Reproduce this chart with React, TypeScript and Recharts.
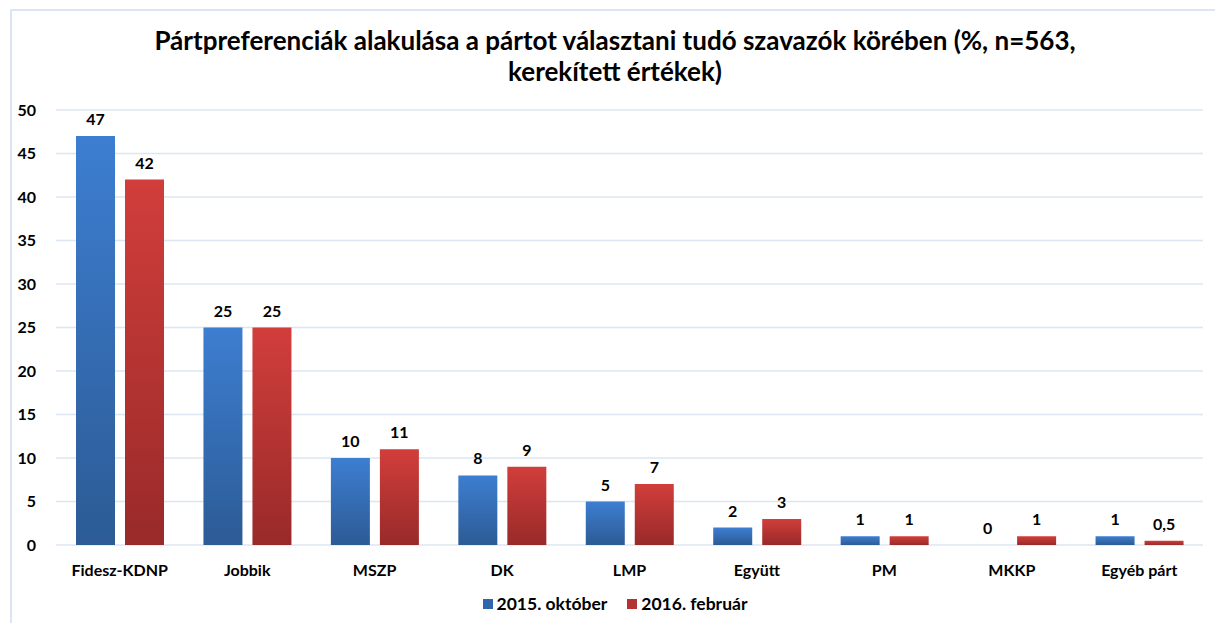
import { BarChart, Bar, XAxis, YAxis, CartesianGrid, LabelList } from 'recharts';

const parties = ['Fidesz-KDNP', 'Jobbik', 'MSZP', 'DK', 'LMP', 'Együtt', 'PM', 'MKKP', 'Egyéb párt'];
const oct2015 = [47, 25, 10, 8, 5, 2, 1, 0, 1];
const feb2016 = [42, 25, 11, 9, 7, 3, 1, 1, 0.5];
const seriesNames = ['2015. október', '2016. február'];
const yTicks = [0, 5, 10, 15, 20, 25, 30, 35, 40, 45, 50];

const data = parties.map((p, i) => ({ party: p, oct: oct2015[i], feb: feb2016[i] }));

const font = 'Lato, "Open Sans", sans-serif';
const labelStyle = { fontSize: 16, fontWeight: 700, fill: '#000', fontFamily: font };
const BAR_SIZE = 39;
const BAR_GAP = 10;

function formatNum(v: unknown) {
  return String(v).replace('.', ',');
}

// blue labels: zero-height bars get drawn from the red label instead
function BlueLabel(props: any) {
  const { x, y, width, value } = props;
  if (value === 0) return null;
  return (
    <text x={x + width / 2} y={y - 11} textAnchor="middle" style={labelStyle}>
      {formatNum(value)}
    </text>
  );
}

function RedLabel(props: any) {
  const { x, y, width, value, index } = props;
  const zeroBlue = oct2015[index] === 0;
  const baseY = y + props.height;
  return (
    <g>
      <text x={x + width / 2} y={y - 11} textAnchor="middle" style={labelStyle}>
        {formatNum(value)}
      </text>
      {zeroBlue && (
        <text x={x - BAR_GAP - width / 2} y={baseY - 11} textAnchor="middle" style={labelStyle}>
          0
        </text>
      )}
    </g>
  );
}

export default function App() {
  return (
    <div style={{ position: 'fixed', left: 0, top: 0, width: 1215, height: 623, background: '#fff', fontFamily: font, overflow: 'hidden' }}>
      {/* frame */}
      <div style={{ position: 'absolute', left: 10, top: 9, width: 1220, height: 620, borderLeft: '2px solid #dce6f2', borderTop: '2px solid #dce6f2' }} />
      <div
        style={{
          position: 'absolute',
          left: 0,
          width: 1230,
          top: 25,
          textAlign: 'center',
          fontWeight: 700,
          fontSize: 26,
          lineHeight: '31px',
          color: '#000',
        }}
      >
        Pártpreferenciák alakulása a pártot választani tudó szavazók körében (%, n=563,
        <br />
        kerekített értékek)
      </div>
      <BarChart
        width={1215}
        height={623}
        data={data}
        margin={{ top: 110, right: 12, left: 0, bottom: 38 }}
        barSize={BAR_SIZE}
        barGap={BAR_GAP}
        style={{ position: 'absolute', left: 0, top: 0 }}
      >
        <defs>
          <linearGradient id="gBlue" x1="0" y1="0" x2="0" y2="1">
            <stop offset="0%" stopColor="#3d7ed1" />
            <stop offset="100%" stopColor="#2c5b95" />
          </linearGradient>
          <linearGradient id="gRed" x1="0" y1="0" x2="0" y2="1">
            <stop offset="0%" stopColor="#d13e3b" />
            <stop offset="100%" stopColor="#982a29" />
          </linearGradient>
        </defs>
        <CartesianGrid vertical={false} stroke="#dce6f2" strokeWidth={1.5} />
        <XAxis
          dataKey="party"
          axisLine={false}
          tickLine={false}
          height={40}
          tick={labelStyle}
          tickMargin={14}
          interval={0}
        />
        <YAxis
          domain={[0, 50]}
          ticks={yTicks}
          width={56}
          axisLine={false}
          tickLine={false}
          tickMargin={14}
          tick={labelStyle}
        />
        <Bar dataKey="oct" name={seriesNames[0]} fill="url(#gBlue)" isAnimationActive={false}>
          <LabelList dataKey="oct" content={BlueLabel} />
        </Bar>
        <Bar dataKey="feb" name={seriesNames[1]} fill="url(#gRed)" isAnimationActive={false}>
          <LabelList dataKey="feb" content={RedLabel} />
        </Bar>
      </BarChart>
      <div
        style={{
          position: 'absolute',
          left: 0,
          width: 1230,
          top: 593,
          display: 'flex',
          justifyContent: 'center',
          gap: 20,
          fontSize: 17.5,
          fontWeight: 700,
        }}
      >
        {seriesNames.map((n, i) => (
          <div key={n} style={{ display: 'flex', alignItems: 'center', gap: 4 }}>
            <span style={{ display: 'inline-block', width: 10, height: 10, background: i === 0 ? '#2f67ad' : '#b23331' }} />
            <span>{n}</span>
          </div>
        ))}
      </div>
    </div>
  );
}
